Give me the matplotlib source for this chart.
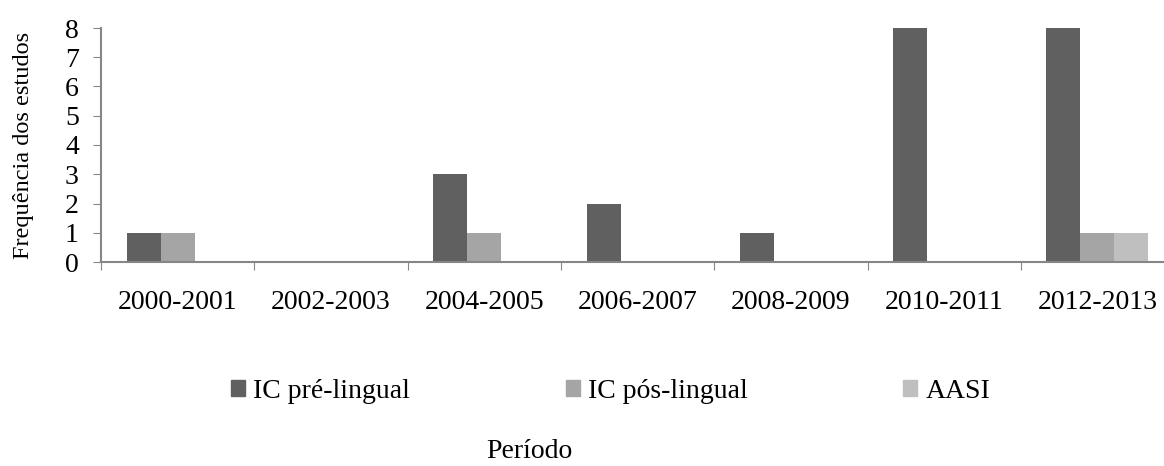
import numpy as np
import matplotlib.pyplot as plt
from matplotlib.patches import Patch

periodos = ["2000-2001", "2002-2003", "2004-2005", "2006-2007",
            "2008-2009", "2010-2011", "2012-2013"]
ic_pre = [1, 0, 3, 2, 1, 8, 8]
ic_pos = [1, 0, 1, 0, 0, 0, 1]
aasi = [0, 0, 0, 0, 0, 0, 1]

series = ["IC pré-lingual", "IC pós-lingual", "AASI"]
cores = ["#606060", "#a5a5a5", "#bfbfbf"]

plt.rcParams["font.family"] = ["Liberation Serif", "DejaVu Serif"]

fig = plt.figure(figsize=(11.64, 4.66), dpi=100)
ax = fig.add_axes([101 / 1164, 1 - 262 / 466, 7 * 153.3 / 1164, (262 - 28) / 466])

x = np.arange(len(periodos))
w = 0.222
for i, (vals, cor) in enumerate(zip([ic_pre, ic_pos, aasi], cores)):
    ax.bar(x + (i - 1) * w, vals, w, color=cor, label=series[i])

ax.set_xlim(-0.5, len(periodos) - 0.5)
ax.set_ylim(0, 8)
ax.set_yticks(range(9))
ax.set_xticks(np.arange(len(periodos) + 1) - 0.5, minor=False)
ax.set_xticklabels([])
ax.set_xticks(x, minor=True)
ax.set_xticklabels(periodos, minor=True)
ax.tick_params(axis="x", which="minor", length=0, labelsize=20, pad=20)
ax.tick_params(axis="x", which="major", length=5.5, color="#868686", direction="out")
ax.tick_params(axis="y", length=6, color="#868686", labelsize=20, pad=10)

for s in ["top", "right"]:
    ax.spines[s].set_visible(False)
for s in ["left", "bottom"]:
    ax.spines[s].set_color("#868686")
    ax.spines[s].set_linewidth(1.5)

ax.set_ylabel("Frequência dos estudos", fontsize=17.5, labelpad=22)

handles = [Patch(color=c) for c in cores]
fig.legend(handles, series, loc="center left", bbox_to_anchor=(206 / 1164, 1 - 391 / 466),
           ncol=3, frameon=False, fontsize=20, handlelength=0.5, handleheight=0.5,
           handletextpad=0.3, columnspacing=5.6)

fig.text(529 / 1164, 1 - 452 / 466, "Período", ha="center", va="center", fontsize=20)

fig.savefig("out.png", dpi=100)
